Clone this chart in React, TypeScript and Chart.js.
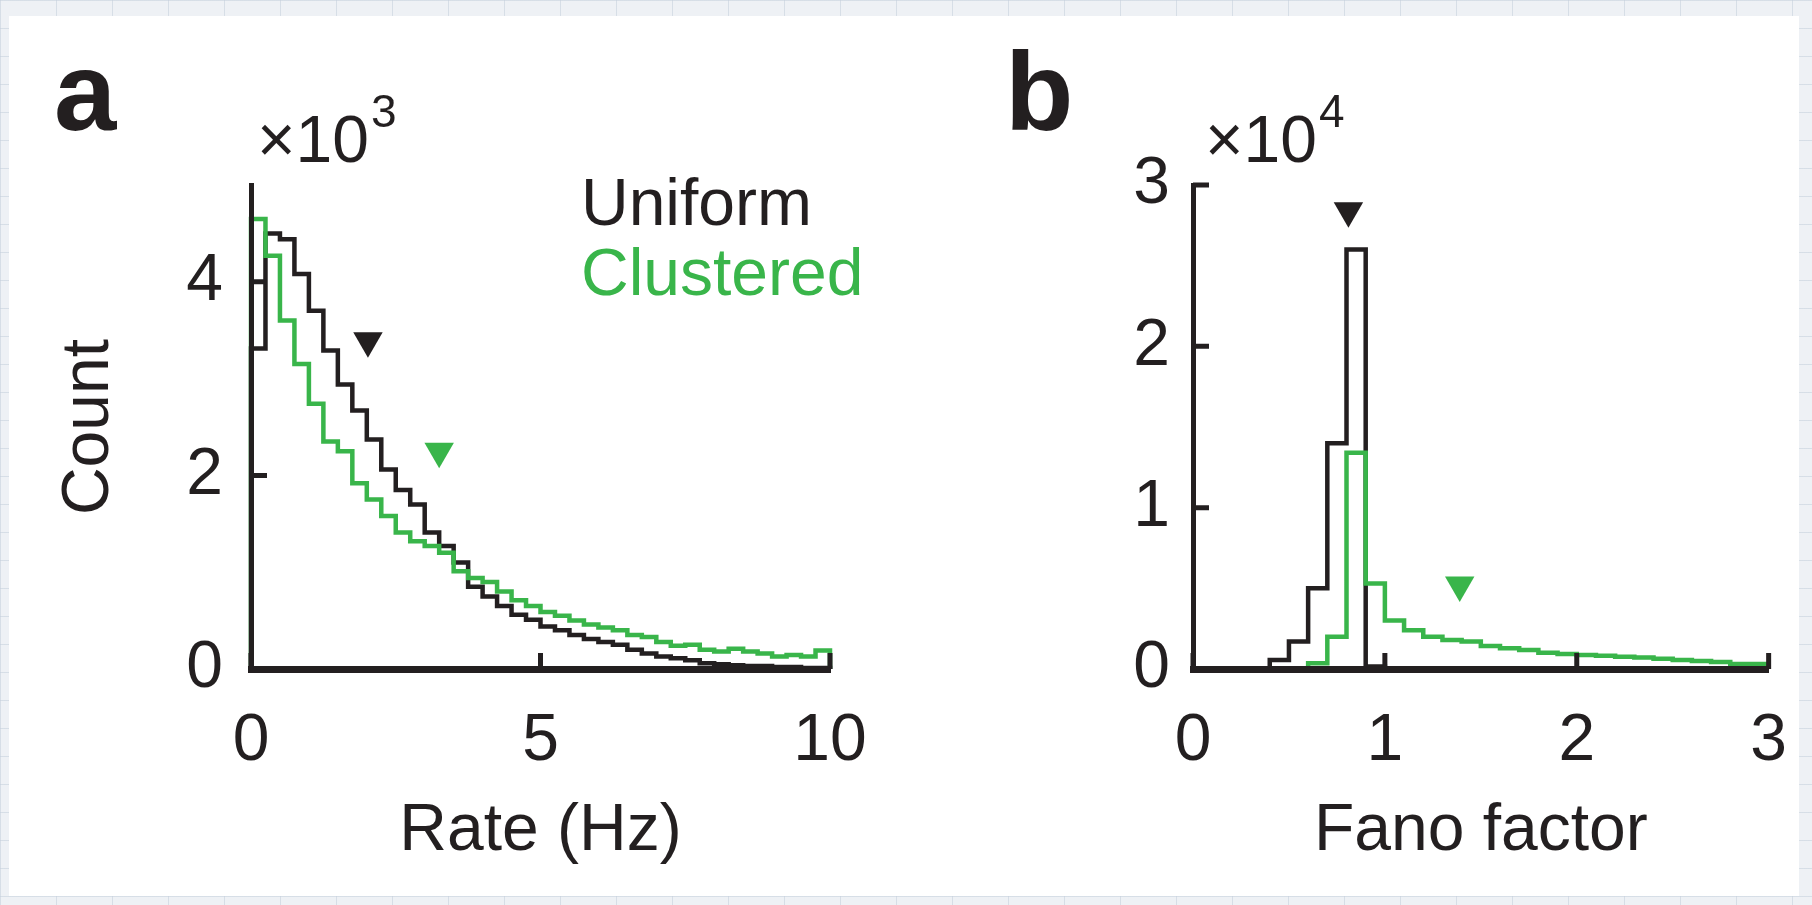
import React, { useEffect, useRef } from 'react';
import { Chart, registerables } from 'chart.js';

Chart.register(...registerables);

// ---- Panel a: firing rate histograms, 0.25 Hz bins over 0–10 Hz (counts ×10³) ----
const rateBinWidth = 0.25;
const rateUniform = [
  3.31, 4.5, 4.44, 4.08, 3.7, 3.29, 2.94, 2.67, 2.37, 2.06,
  1.85, 1.7, 1.41, 1.27, 1.1, 0.85, 0.75, 0.65, 0.56, 0.51,
  0.44, 0.4, 0.35, 0.31, 0.28, 0.25, 0.2, 0.16, 0.13, 0.11,
  0.09, 0.06, 0.05, 0.04, 0.03, 0.03, 0.02, 0.02, 0.01, 0.01,
];
const rateClustered = [
  4.65, 4.27, 3.6, 3.15, 2.74, 2.35, 2.25, 1.92, 1.75, 1.58,
  1.41, 1.32, 1.27, 1.2, 1.01, 0.94, 0.9, 0.8, 0.71, 0.65,
  0.59, 0.55, 0.5, 0.46, 0.43, 0.4, 0.35, 0.33, 0.28, 0.24,
  0.25, 0.2, 0.18, 0.21, 0.18, 0.16, 0.13, 0.145, 0.13, 0.19,
];
const rateTicksX = [0, 5, 10];
const rateTicksY = [0, 2, 4];
const rateMax = [10, 5];
const rateMarkerUniform = [{ x: 2.02, y: 3.39 }];
const rateMarkerClustered = [{ x: 3.25, y: 2.25 }];

// ---- Panel b: Fano factor histograms, 0.1 bins over 0–3 (counts ×10⁴) ----
const fanoBinWidth = 0.1;
const fanoUniform = [
  0, 0, 0, 0, 0.056, 0.17, 0.5, 1.4, 2.6, 0.015,
  0, 0, 0, 0, 0, 0, 0, 0, 0, 0,
  0, 0, 0, 0, 0, 0, 0, 0, 0, 0,
];
const fanoClustered = [
  0, 0, 0, 0, 0, 0, 0.035, 0.2, 1.34, 0.53,
  0.3, 0.24, 0.2, 0.18, 0.17, 0.143, 0.128, 0.118, 0.1, 0.093,
  0.087, 0.082, 0.076, 0.072, 0.064, 0.056, 0.05, 0.043, 0.031, 0.031,
];
const fanoTicksX = [0, 1, 2, 3];
const fanoTicksY = [0, 1, 2, 3];
const fanoMax = [3, 3];
const fanoMarkerUniform = [{ x: 0.81, y: 2.84 }];
const fanoMarkerClustered = [{ x: 1.39, y: 0.52 }];

const seriesNames = ['Uniform', 'Clustered'];

const INK = '#231f20';
const GREEN = '#39b54a';
const FONT = '"Liberation Sans", Arial, Helvetica, sans-serif';
const TEXT_SIZE = 66;

type Pt = { x: number; y: number };

// Outline of a histogram: starts and ends on the baseline, one step per bin.
function stepPoints(binWidth: number, counts: number[]): Pt[] {
  const pts: Pt[] = [{ x: 0, y: 0 }];
  counts.forEach((c, i) => pts.push({ x: i * binWidth, y: c }));
  pts.push({ x: counts.length * binWidth, y: 0 });
  return pts;
}

type PanelSpec = {
  letter: string;
  letterX: number;
  exponent: string;
  exponentDx: number;
  showLegend: boolean;
  binWidth: number;
  uniform: number[];
  clustered: number[];
  markerUniform: Pt[];
  markerClustered: Pt[];
  ticksX: number[];
  ticksY: number[];
  max: number[];
  xTitle: string;
  yTitle: string;
  padLeft: number;
  padRight: number;
  yWidth: number;
  yTickPad: number;
};

// MATLAB-style tick marks pointing into the plot area
const inwardTicks = {
  id: 'inwardTicks',
  afterDatasetsDraw(chart: any) {
    const { ctx, chartArea, scales } = chart;
    const len = 16;
    ctx.save();
    ctx.strokeStyle = INK;
    ctx.lineWidth = 5;
    ctx.lineCap = 'butt';
    ctx.beginPath();
    scales.x.ticks.forEach((t: any) => {
      const px = scales.x.getPixelForValue(t.value);
      ctx.moveTo(px, chartArea.bottom);
      ctx.lineTo(px, chartArea.bottom - len);
    });
    scales.y.ticks.forEach((t: any) => {
      const py = scales.y.getPixelForValue(t.value);
      ctx.moveTo(chartArea.left, py);
      ctx.lineTo(chartArea.left + len, py);
    });
    ctx.stroke();
    ctx.restore();
  },
};

// Panel letter, axis multiplier and the coloured series names
function panelDecor(s: PanelSpec) {
  return {
    id: 'panelDecor',
    afterDraw(chart: any) {
      const { ctx, chartArea } = chart;
      ctx.save();
      ctx.textBaseline = 'alphabetic';
      ctx.textAlign = 'left';
      ctx.fillStyle = INK;

      ctx.font = `bold 112px ${FONT}`;
      ctx.fillText(s.letter, s.letterX, 130);

      ctx.font = `${TEXT_SIZE}px ${FONT}`;
      const base = '×10';
      const bx = chartArea.left + s.exponentDx;
      ctx.fillText(base, bx, 162);
      const w = ctx.measureText(base).width;
      ctx.font = `46px ${FONT}`;
      ctx.fillText(s.exponent, bx + w + 2, 127);

      if (s.showLegend) {
        ctx.font = `${TEXT_SIZE}px ${FONT}`;
        const hist = chart.data.datasets
          .filter((d: any) => seriesNames.includes(d.label))
          .sort((a: any, b: any) => seriesNames.indexOf(a.label) - seriesNames.indexOf(b.label));
        hist.forEach((d: any, i: number) => {
          ctx.fillStyle = d.borderColor;
          ctx.fillText(d.label, 581, 225 + i * 70);
        });
      }
      ctx.restore();
    },
  };
}

function buildConfig(s: PanelSpec): any {
  const font = { family: FONT, size: TEXT_SIZE };
  const marker = (data: Pt[], color: string) => ({
    type: 'scatter',
    data,
    pointStyle: 'triangle',
    pointRotation: 180,
    pointRadius: 17,
    pointHoverRadius: 17,
    pointBackgroundColor: color,
    pointBorderWidth: 0,
    borderColor: color,
    showLine: false,
    clip: false,
    order: 0,
  });
  const hist = (label: string, counts: number[], color: string, order: number) => ({
    type: 'line',
    label,
    data: stepPoints(s.binWidth, counts),
    borderColor: color,
    borderWidth: 4.5,
    borderJoinStyle: 'miter',
    borderCapStyle: 'butt',
    pointRadius: 0,
    pointHoverRadius: 0,
    stepped: true,
    tension: 0,
    fill: false,
    clip: false,
    order,
  });

  return {
    type: 'line',
    data: {
      datasets: [
        marker(s.markerUniform, INK),
        marker(s.markerClustered, GREEN),
        hist(seriesNames[1], s.clustered, GREEN, 1),
        hist(seriesNames[0], s.uniform, INK, 2),
      ],
    },
    options: {
      responsive: false,
      animation: false,
      devicePixelRatio: 1,
      events: [],
      layout: { padding: { left: s.padLeft, right: s.padRight, top: 185, bottom: 33.4 } },
      plugins: { legend: { display: false }, tooltip: { enabled: false } },
      scales: {
        x: {
          type: 'linear',
          min: 0,
          max: s.max[0],
          afterBuildTicks: (sc: any) => {
            sc.ticks = s.ticksX.map((v) => ({ value: v }));
          },
          afterFit: (sc: any) => {
            sc.height = 202.6;
          },
          grid: { display: false },
          border: { display: true, color: INK, width: 7, z: 1 },
          ticks: {
            padding: 25,
            color: INK,
            font,
            maxRotation: 0,
            autoSkip: false,
            callback: (v: any) => String(v),
          },
          title: { display: !!s.xTitle, text: s.xTitle, color: INK, font, padding: 0 },
        },
        y: {
          type: 'linear',
          min: 0,
          max: s.max[1],
          afterBuildTicks: (sc: any) => {
            sc.ticks = s.ticksY.map((v) => ({ value: v }));
          },
          afterFit: (sc: any) => {
            sc.width = s.yWidth;
          },
          grid: { display: false },
          border: { display: true, color: INK, width: 5, z: 1 },
          ticks: {
            padding: s.yTickPad,
            color: INK,
            font,
            autoSkip: false,
            callback: (v: any) => String(v),
          },
          title: { display: !!s.yTitle, text: s.yTitle, color: INK, font, padding: 0 },
        },
      },
    },
    plugins: [inwardTicks, panelDecor(s)],
  };
}

const panelA: PanelSpec = {
  letter: 'a',
  letterX: 54,
  exponent: '3',
  exponentDx: 6,
  showLegend: true,
  binWidth: rateBinWidth,
  uniform: rateUniform,
  clustered: rateClustered,
  markerUniform: rateMarkerUniform,
  markerClustered: rateMarkerClustered,
  ticksX: rateTicksX,
  ticksY: rateTicksY,
  max: rateMax,
  xTitle: 'Rate (Hz)',
  yTitle: 'Count',
  padLeft: 50,
  padRight: 76,
  yWidth: 201,
  yTickPad: 20,
};

const panelB: PanelSpec = {
  letter: 'b',
  letterX: 99,
  exponent: '4',
  exponentDx: 12,
  showLegend: false,
  binWidth: fanoBinWidth,
  uniform: fanoUniform,
  clustered: fanoClustered,
  markerUniform: fanoMarkerUniform,
  markerClustered: fanoMarkerClustered,
  ticksX: fanoTicksX,
  ticksY: fanoTicksY,
  max: fanoMax,
  xTitle: 'Fano factor',
  yTitle: '',
  padLeft: 0,
  padRight: 38.5,
  yWidth: 287,
  yTickPad: 15,
};

function Panel({ left, spec }: { left: number; spec: PanelSpec }) {
  const ref = useRef<HTMLCanvasElement>(null);
  useEffect(() => {
    const chart = new Chart(ref.current as HTMLCanvasElement, buildConfig(spec));
    return () => chart.destroy();
  }, [spec]);
  return (
    <canvas
      ref={ref}
      width={906}
      height={905}
      style={{ position: 'absolute', left, top: 0, width: 906, height: 905, display: 'block' }}
    />
  );
}

export default function App() {
  return (
    <div
      style={{
        position: 'fixed',
        left: 0,
        top: 0,
        width: 1812,
        height: 905,
        overflow: 'hidden',
        backgroundColor: '#eef1f5',
        backgroundImage:
          'linear-gradient(90deg, rgba(196,206,220,0.55) 1px, transparent 1px), linear-gradient(rgba(196,206,220,0.55) 1px, transparent 1px)',
        backgroundSize: '56px 28px',
      }}
    >
      <div
        style={{
          position: 'absolute',
          left: 9,
          top: 16,
          width: 1790,
          height: 880,
          background: '#ffffff',
        }}
      />
      <Panel left={0} spec={panelA} />
      <Panel left={906} spec={panelB} />
    </div>
  );
}
